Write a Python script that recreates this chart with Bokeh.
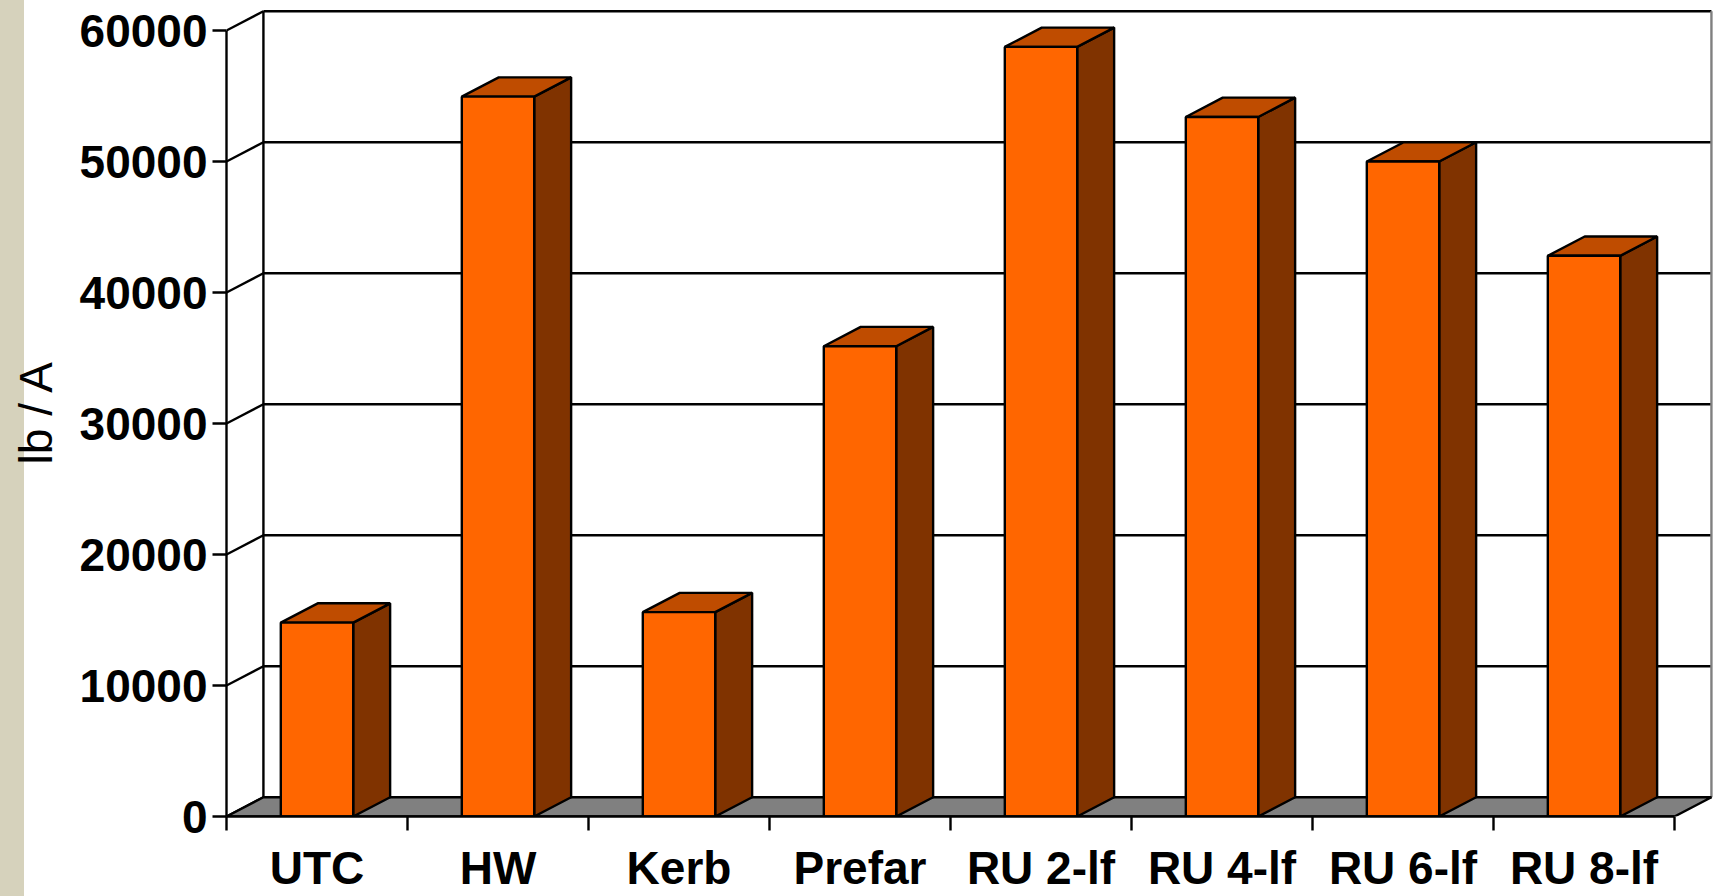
from bokeh.plotting import figure
from bokeh.models import Range1d, FixedTicker
from bokeh.embed import file_html
from bokeh.resources import INLINE

categories = ["UTC", "HW", "Kerb", "Prefar", "RU 2-lf", "RU 4-lf", "RU 6-lf", "RU 8-lf"]
values = [14800, 54950, 15600, 35900, 58750, 53400, 50000, 42800]
y_ticks = [0, 10000, 20000, 30000, 40000, 50000, 60000]

FONT = "Liberation Sans"
FS = "46px"
DX, DY = 0.204, 1473
BAR_W = 0.40
LW = 2.4

n = len(categories)
centers = [i + 0.5 for i in range(n)]

p = figure(width=1720, height=896, output_backend="svg", toolbar_location=None,
           x_range=Range1d(0, 8.232), y_range=Range1d(0, 61756),
           min_border_left=226, min_border_right=4, min_border_top=7, min_border_bottom=80,
           outline_line_color=None, background_fill_color="white", border_fill_color=None)
p.styles = {"position": "absolute", "left": "0px", "top": "0px",
            "background": "linear-gradient(to right, #D6D2BC 24px, white 24px)"}
p.grid.visible = False

# back wall and side wall grid
p.segment(x0=[DX] * len(y_ticks), y0=[v + DY for v in y_ticks], x1=[n + DX] * len(y_ticks),
          y1=[v + DY for v in y_ticks], line_color="black", line_width=LW)
p.segment(x0=[0] * len(y_ticks), y0=y_ticks, x1=[DX] * len(y_ticks), y1=[v + DY for v in y_ticks],
          line_color="black", line_width=LW)
p.segment(x0=[DX], y0=[DY], x1=[DX], y1=[y_ticks[-1] + DY], line_color="black", line_width=LW)
p.segment(x0=[n + DX], y0=[DY], x1=[n + DX], y1=[y_ticks[-1] + DY], line_color="#808080", line_width=LW)

# floor
p.patch(x=[0, n, n + DX, DX], y=[0, 0, DY, DY], fill_color="#808080", line_color="black", line_width=LW)

# bars
lefts = [c - BAR_W / 2 for c in centers]
rights = [c + BAR_W / 2 for c in centers]
p.patches(xs=[[r, r + DX, r + DX, r] for r in rights],
          ys=[[0, DY, v + DY, v] for v in values],
          fill_color="#803300", line_color="black", line_width=LW)
p.patches(xs=[[l, r, r + DX, l + DX] for l, r in zip(lefts, rights)],
          ys=[[v, v, v + DY, v + DY] for v in values],
          fill_color="#BF4C00", line_color="black", line_width=LW)
p.vbar(x=centers, width=BAR_W, bottom=0, top=values, fill_color="#FF6600", line_color="black", line_width=LW)

# axes
ax = p.xaxis[0]
ax.ticker = FixedTicker(ticks=centers, minor_ticks=list(range(n + 1)))
ax.major_label_overrides = {c: t for c, t in zip(centers, categories)}
ax.bounds = (0, n)
ax.axis_line_color = "black"
ax.axis_line_width = LW
ax.major_tick_line_color = None
ax.major_tick_out = 0
ax.major_tick_in = 0
ax.minor_tick_line_color = "black"
ax.minor_tick_line_width = LW
ax.minor_tick_out = 14
ax.minor_tick_in = 0
ax.major_label_standoff = 11
ax.major_label_text_font = FONT
ax.major_label_text_font_size = FS
ax.major_label_text_font_style = "bold"
ax.major_label_text_color = "black"

ay = p.yaxis[0]
ay.ticker = FixedTicker(ticks=y_ticks)
ay.bounds = (0, 60000)
ay.axis_line_color = "black"
ay.axis_line_width = LW
ay.major_tick_line_color = "black"
ay.major_tick_line_width = LW
ay.major_tick_out = 14
ay.major_tick_in = 0
ay.minor_tick_line_color = None
ay.major_label_standoff = 5
ay.major_label_text_font = FONT
ay.major_label_text_font_size = FS
ay.major_label_text_font_style = "bold"
ay.major_label_text_color = "black"
ay.formatter.use_scientific = False
ay.axis_label = "lb / A"
ay.axis_label_standoff = 15
ay.axis_label_text_font = FONT
ay.axis_label_text_font_size = "46px"
ay.axis_label_text_font_style = "normal"
ay.axis_label_text_color = "black"

open("out.html", "w").write(file_html(p, INLINE))
